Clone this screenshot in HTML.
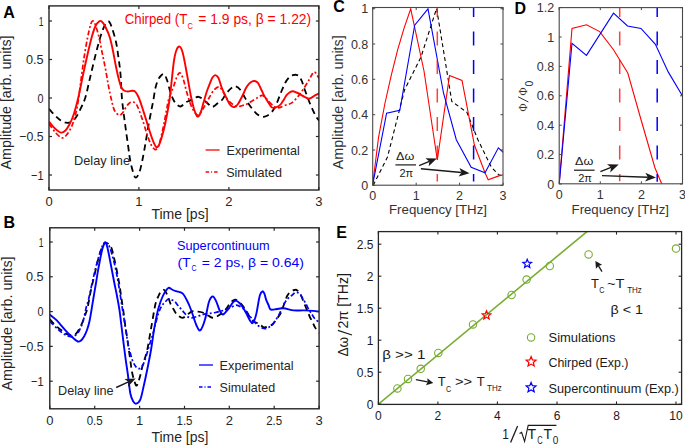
<!DOCTYPE html>
<html><head><meta charset="utf-8"><style>
html,body{margin:0;padding:0;background:#fff;width:685px;height:446px;overflow:hidden}
svg{display:block}
</style></head><body>
<svg width="685" height="446" viewBox="0 0 685 446">
<rect width="685" height="446" fill="#ffffff"/>
<defs><clipPath id="cA"><rect x="49.0" y="5.9" width="269.9" height="184.1"/></clipPath>
<clipPath id="cB"><rect x="49.8" y="227.8" width="269.3" height="181"/></clipPath>
<clipPath id="cC"><rect x="372.6" y="7.9" width="130.6" height="177.3"/></clipPath>
<clipPath id="cD"><rect x="559.2" y="7.6" width="123.3" height="176.2"/></clipPath>
<clipPath id="cE"><rect x="378.4" y="231.6" width="303.2" height="172.8"/></clipPath></defs>
<g clip-path="url(#cA)" fill="none" stroke-linejoin="round">
<path d="M49.0,108.8 C50.0,109.9 53.0,113.5 55.0,115.5 C57.0,117.5 59.0,119.3 60.8,120.5 C62.6,121.7 64.3,122.5 66.0,122.7 C67.7,123.0 69.4,122.8 71.0,122.0 C72.6,121.2 74.0,120.0 75.5,118.0 C77.0,116.0 78.4,113.3 80.0,110.0 C81.6,106.7 83.5,103.3 85.2,98.0 C86.9,92.7 88.2,85.5 90.0,78.0 C91.8,70.5 94.2,60.2 96.0,53.0 C97.8,45.8 99.5,39.7 101.0,35.0 C102.5,30.3 103.7,27.3 105.0,25.0 C106.3,22.7 107.5,20.9 108.7,21.4 C109.9,21.9 110.8,24.6 112.0,28.0 C113.2,31.4 114.9,37.0 116.0,42.0 C117.1,47.0 117.8,52.8 118.5,58.0 C119.2,63.2 119.8,66.0 120.4,73.0 C121.0,80.0 121.3,91.5 122.1,100.0 C122.9,108.5 124.1,116.5 125.1,124.2 C126.1,131.9 127.3,140.3 128.2,146.4 C129.0,152.5 129.4,156.1 130.2,160.5 C131.0,164.9 132.3,169.7 133.2,172.6 C134.1,175.5 134.8,177.7 135.8,177.7 C136.8,177.7 138.2,175.5 139.3,172.6 C140.4,169.7 141.3,165.2 142.3,160.5 C143.3,155.8 144.3,150.1 145.3,144.4 C146.3,138.7 147.3,131.9 148.3,126.2 C149.3,120.5 150.6,114.5 151.4,110.1 C152.2,105.7 152.7,103.7 153.4,100.0 C154.1,96.3 154.6,91.3 155.4,88.0 C156.2,84.7 157.1,82.0 158.0,80.0 C158.9,78.0 159.7,77.0 160.7,76.0 C161.7,75.0 162.9,73.3 164.0,74.0 C165.1,74.7 165.9,77.0 167.0,80.0 C168.1,83.0 169.2,88.7 170.3,92.0 C171.4,95.3 172.4,97.9 173.5,100.0 C174.6,102.1 175.5,103.4 176.7,104.5 C177.9,105.6 179.3,106.6 180.5,106.5 C181.7,106.4 183.0,104.8 184.0,104.0 C185.0,103.2 185.2,102.6 186.3,102.0 C187.4,101.4 189.0,101.1 190.4,100.4 C191.8,99.7 193.1,98.6 194.5,98.0 C195.9,97.4 197.2,96.6 198.6,96.8 C200.0,97.0 201.5,98.1 202.7,98.9 C203.8,99.7 204.5,100.6 205.5,101.5 C206.5,102.4 207.8,103.6 208.8,104.5 C209.9,105.4 210.8,106.8 211.8,107.0 C212.8,107.2 214.0,106.2 215.0,105.5 C216.0,104.8 216.8,103.9 218.0,103.0 C219.2,102.1 220.7,101.5 222.0,100.0 C223.3,98.5 224.6,95.6 226.0,93.8 C227.4,92.0 229.0,90.3 230.2,89.2 C231.4,88.1 232.1,87.5 233.0,87.0 C233.9,86.5 234.6,85.9 235.8,86.3 C237.0,86.7 238.5,87.6 240.0,89.5 C241.5,91.4 243.4,95.1 244.9,97.6 C246.4,100.1 247.6,102.4 249.0,104.5 C250.4,106.6 252.0,108.6 253.4,110.3 C254.8,112.0 256.1,113.4 257.5,114.5 C258.9,115.6 260.5,116.5 262.0,116.7 C263.5,117.0 264.9,116.7 266.5,116.0 C268.1,115.3 270.0,114.1 271.5,112.4 C273.0,110.7 274.2,108.5 275.5,106.0 C276.8,103.5 277.9,100.3 279.0,97.6 C280.1,94.9 280.9,92.5 282.0,90.0 C283.1,87.5 284.1,84.8 285.3,82.7 C286.5,80.6 287.8,78.8 289.0,77.5 C290.2,76.2 291.6,75.7 292.8,75.2 C294.0,74.8 294.9,74.6 296.0,74.8 C297.1,75.0 298.2,75.2 299.2,76.3 C300.2,77.4 301.1,79.4 302.0,81.5 C302.9,83.6 303.5,86.2 304.5,89.0 C305.5,91.8 306.8,95.3 308.0,98.5 C309.2,101.7 310.6,105.2 312.0,108.2 C313.4,111.2 314.9,114.6 316.2,116.7 C317.4,118.8 318.9,120.3 319.5,121.0" stroke="#000" stroke-width="1.8" stroke-dasharray="6.3,4.2"/>
<path d="M49.0,123.7 C50.0,125.1 52.9,129.7 55.0,132.0 C57.1,134.3 59.9,137.3 61.8,137.8 C63.7,138.3 64.9,136.8 66.5,135.0 C68.1,133.2 70.0,130.0 71.4,127.0 C72.8,124.0 73.7,120.9 74.8,117.0 C75.9,113.1 76.8,109.7 77.8,103.5 C78.8,97.3 80.0,87.6 81.0,80.0 C82.0,72.4 82.9,65.0 84.0,58.0 C85.1,51.0 86.4,43.5 87.5,38.0 C88.6,32.5 89.7,27.8 90.5,25.0 C91.3,22.2 91.8,21.2 92.5,21.0 C93.2,20.8 93.9,21.3 95.0,24.0 C96.1,26.7 97.8,32.3 99.0,37.0 C100.2,41.7 100.9,46.7 102.0,52.0 C103.1,57.3 104.4,63.3 105.5,69.0 C106.6,74.7 107.5,80.8 108.5,86.0 C109.5,91.2 110.5,95.9 111.5,100.0 C112.5,104.1 113.2,108.0 114.5,110.5 C115.8,113.0 117.8,114.7 119.1,115.1 C120.4,115.5 121.3,114.3 122.5,113.0 C123.7,111.7 124.9,108.8 126.1,107.1 C127.3,105.4 128.3,103.8 129.5,103.0 C130.7,102.2 132.1,101.8 133.2,102.0 C134.3,102.2 135.2,103.0 136.0,104.0 C136.8,105.0 137.0,105.0 138.2,108.0 C139.4,111.0 141.8,117.7 143.3,122.2 C144.8,126.8 146.0,131.4 147.3,135.3 C148.7,139.2 150.2,143.1 151.4,145.4 C152.7,147.8 153.9,148.9 154.8,149.4 C155.7,149.9 156.2,149.5 157.0,148.5 C157.8,147.5 158.3,147.1 159.4,143.4 C160.5,139.7 162.3,131.8 163.5,126.2 C164.7,120.7 165.7,114.5 166.5,110.1 C167.3,105.7 167.8,102.8 168.5,100.0 C169.2,97.2 170.1,95.3 171.0,93.0 C171.9,90.7 172.8,88.8 173.8,86.0 C174.8,83.2 175.9,78.7 177.0,76.5 C178.1,74.3 179.1,72.4 180.2,73.0 C181.3,73.6 182.4,76.9 183.5,80.0 C184.6,83.1 185.4,87.7 186.6,91.7 C187.8,95.7 189.2,100.6 190.5,104.0 C191.8,107.4 193.2,110.2 194.5,112.0 C195.8,113.8 196.8,115.7 198.3,115.0 C199.8,114.3 201.7,110.8 203.5,108.0 C205.3,105.2 207.2,101.0 209.0,98.0 C210.8,95.0 212.3,91.8 214.0,90.0 C215.7,88.2 217.7,86.6 219.3,87.0 C220.9,87.4 222.1,90.3 223.5,92.5 C224.9,94.7 226.4,98.2 228.0,100.2 C229.6,102.2 231.4,103.4 233.0,104.5 C234.6,105.6 236.1,106.4 237.7,106.6 C239.3,106.8 240.9,105.9 242.5,105.5 C244.1,105.1 245.4,104.8 247.0,104.0 C248.6,103.2 250.2,102.1 252.0,101.0 C253.8,99.9 256.0,98.5 257.7,97.6 C259.4,96.7 260.7,95.4 262.0,95.4 C263.3,95.4 264.4,96.6 265.5,97.5 C266.6,98.4 266.8,99.2 268.3,100.8 C269.8,102.4 273.1,105.9 274.7,107.1 C276.3,108.3 276.9,107.8 278.0,107.8 C279.1,107.8 279.7,107.6 281.0,107.1 C282.3,106.6 284.2,105.7 286.0,105.0 C287.8,104.3 289.7,104.3 291.7,102.9 C293.7,101.5 296.1,98.8 298.0,96.5 C299.9,94.2 301.6,91.7 303.4,89.0 C305.2,86.3 307.3,82.9 308.7,80.5 C310.1,78.1 311.1,75.9 312.0,74.5 C312.9,73.1 313.2,72.1 314.0,72.0 C314.8,71.9 315.7,72.9 316.5,74.0 C317.3,75.1 318.6,77.7 319.0,78.4" stroke="#ff0000" stroke-width="1.7" stroke-dasharray="5,2.3,2,2.3"/>
<path d="M49.0,121.6 C50.0,122.8 53.0,126.7 55.0,128.5 C57.0,130.3 59.0,132.3 60.8,132.6 C62.5,132.9 64.1,131.8 65.5,130.5 C66.9,129.2 68.1,127.0 69.3,124.8 C70.5,122.5 71.7,119.8 72.8,117.0 C73.9,114.2 74.7,111.5 75.7,107.8 C76.7,104.1 77.7,100.5 78.9,95.0 C80.1,89.5 81.6,81.7 83.0,75.0 C84.4,68.3 86.0,61.2 87.4,55.0 C88.8,48.8 90.2,42.8 91.5,38.0 C92.8,33.2 94.2,28.8 95.5,26.0 C96.8,23.2 98.0,22.2 99.0,21.4 C100.0,20.6 100.7,20.6 101.7,21.4 C102.7,22.2 103.7,23.4 105.0,26.0 C106.3,28.6 108.4,32.8 109.7,37.0 C111.0,41.2 112.0,46.0 113.0,51.0 C114.0,56.0 115.0,61.9 116.0,66.7 C117.0,71.5 118.1,76.5 119.0,80.0 C119.9,83.5 120.6,85.8 121.4,87.5 C122.2,89.2 122.9,89.8 124.0,90.5 C125.1,91.2 126.7,91.5 128.0,91.5 C129.3,91.5 130.8,90.7 132.0,90.7 C133.2,90.7 134.1,90.5 135.2,91.6 C136.3,92.6 137.2,94.1 138.5,97.0 C139.8,99.9 141.4,105.0 142.7,109.0 C144.0,113.0 145.3,117.1 146.5,121.0 C147.7,124.9 148.8,128.8 150.0,132.3 C151.2,135.8 152.4,139.5 153.5,142.0 C154.6,144.5 155.5,146.7 156.4,147.2 C157.3,147.7 158.2,146.5 159.0,145.0 C159.8,143.5 160.3,142.1 161.4,138.3 C162.5,134.5 164.2,128.6 165.5,122.2 C166.8,115.8 168.1,110.0 169.5,100.0 C170.9,90.0 172.6,70.3 173.8,62.0 C175.0,53.7 175.5,52.6 176.5,50.0 C177.5,47.4 178.6,46.3 179.6,46.6 C180.6,46.9 181.5,48.7 182.5,52.0 C183.5,55.3 184.6,61.5 185.5,66.2 C186.4,70.9 187.1,75.0 188.0,80.0 C188.9,85.0 189.9,91.2 190.9,96.0 C191.9,100.8 192.9,105.6 194.0,109.0 C195.1,112.4 196.2,115.8 197.3,116.5 C198.4,117.2 199.4,115.4 200.5,113.0 C201.6,110.6 202.5,106.0 203.6,102.3 C204.7,98.6 205.9,94.2 207.0,91.0 C208.1,87.8 209.1,85.5 210.0,83.2 C210.9,81.0 211.6,78.8 212.5,77.5 C213.4,76.2 214.3,75.0 215.3,75.1 C216.3,75.2 217.4,75.9 218.5,78.0 C219.6,80.1 220.5,84.5 221.7,87.5 C222.9,90.5 224.2,93.3 225.5,96.0 C226.8,98.7 228.1,101.7 229.2,103.4 C230.3,105.2 231.1,105.9 232.0,106.5 C232.9,107.1 233.5,107.4 234.5,107.0 C235.5,106.6 236.6,106.0 238.0,104.0 C239.4,102.0 241.5,97.7 242.8,95.0 C244.1,92.3 244.9,89.9 246.0,88.0 C247.1,86.1 248.2,84.8 249.2,83.7 C250.2,82.6 251.1,82.0 252.0,81.5 C252.9,81.0 253.6,80.8 254.5,81.0 C255.4,81.2 256.6,81.4 257.7,82.7 C258.8,84.0 259.9,86.9 261.0,89.0 C262.1,91.1 262.8,93.2 264.0,95.4 C265.2,97.6 266.8,100.0 268.0,102.0 C269.2,104.0 270.4,106.1 271.5,107.1 C272.6,108.1 273.6,107.9 274.7,107.8 C275.8,107.7 276.9,107.1 278.0,106.5 C279.1,105.9 280.0,105.2 281.0,104.0 C282.0,102.8 283.1,100.9 284.0,99.5 C284.9,98.1 285.5,96.6 286.4,95.4 C287.3,94.2 288.4,93.2 289.5,92.5 C290.6,91.8 291.6,91.2 292.8,91.2 C294.0,91.2 295.3,92.0 296.5,92.5 C297.7,93.0 298.9,93.7 300.2,94.4 C301.5,95.1 303.1,96.1 304.5,96.8 C305.9,97.5 307.4,98.5 308.7,98.6 C309.9,98.7 310.9,97.8 312.0,97.3 C313.1,96.8 313.8,96.1 315.0,95.4 C316.2,94.7 318.3,93.7 319.0,93.3" stroke="#ff0000" stroke-width="1.9"/>
</g>
<rect x="49.0" y="5.9" width="269.9" height="184.1" fill="none" stroke="#262626" stroke-width="1.40"/>
<line x1="49.0" y1="175.0" x2="52.0" y2="175.0" stroke="#262626" stroke-width="1.20"/>
<line x1="318.9" y1="175.0" x2="315.9" y2="175.0" stroke="#262626" stroke-width="1.20"/>
<line x1="49.0" y1="136.5" x2="52.0" y2="136.5" stroke="#262626" stroke-width="1.20"/>
<line x1="318.9" y1="136.5" x2="315.9" y2="136.5" stroke="#262626" stroke-width="1.20"/>
<line x1="49.0" y1="98.0" x2="52.0" y2="98.0" stroke="#262626" stroke-width="1.20"/>
<line x1="318.9" y1="98.0" x2="315.9" y2="98.0" stroke="#262626" stroke-width="1.20"/>
<line x1="49.0" y1="59.5" x2="52.0" y2="59.5" stroke="#262626" stroke-width="1.20"/>
<line x1="318.9" y1="59.5" x2="315.9" y2="59.5" stroke="#262626" stroke-width="1.20"/>
<line x1="49.0" y1="21.0" x2="52.0" y2="21.0" stroke="#262626" stroke-width="1.20"/>
<line x1="318.9" y1="21.0" x2="315.9" y2="21.0" stroke="#262626" stroke-width="1.20"/>
<line x1="49.0" y1="190.0" x2="49.0" y2="187.0" stroke="#262626" stroke-width="1.20"/>
<line x1="49.0" y1="5.9" x2="49.0" y2="8.9" stroke="#262626" stroke-width="1.20"/>
<line x1="138.9" y1="190.0" x2="138.9" y2="187.0" stroke="#262626" stroke-width="1.20"/>
<line x1="138.9" y1="5.9" x2="138.9" y2="8.9" stroke="#262626" stroke-width="1.20"/>
<line x1="228.9" y1="190.0" x2="228.9" y2="187.0" stroke="#262626" stroke-width="1.20"/>
<line x1="228.9" y1="5.9" x2="228.9" y2="8.9" stroke="#262626" stroke-width="1.20"/>
<line x1="318.8" y1="190.0" x2="318.8" y2="187.0" stroke="#262626" stroke-width="1.20"/>
<line x1="318.8" y1="5.9" x2="318.8" y2="8.9" stroke="#262626" stroke-width="1.20"/>
<text x="38.8" y="25.6" font-size="13.00" text-anchor="start" fill="#262626" font-weight="normal" font-family='"Liberation Sans", sans-serif' textLength="4.8" lengthAdjust="spacingAndGlyphs">1</text>
<text x="26.0" y="64.1" font-size="13.00" text-anchor="start" fill="#262626" font-weight="normal" font-family='"Liberation Sans", sans-serif' textLength="17.6" lengthAdjust="spacingAndGlyphs">0.5</text>
<text x="37.6" y="102.6" font-size="13.00" text-anchor="start" fill="#262626" font-weight="normal" font-family='"Liberation Sans", sans-serif' textLength="6.0" lengthAdjust="spacingAndGlyphs">0</text>
<text x="19.3" y="141.1" font-size="13.00" text-anchor="start" fill="#262626" font-weight="normal" font-family='"Liberation Sans", sans-serif' textLength="24.3" lengthAdjust="spacingAndGlyphs">−0.5</text>
<text x="31.1" y="179.6" font-size="13.00" text-anchor="start" fill="#262626" font-weight="normal" font-family='"Liberation Sans", sans-serif' textLength="12.5" lengthAdjust="spacingAndGlyphs">−1</text>
<text x="49.0" y="206.1" font-size="13.00" text-anchor="middle" fill="#262626" font-weight="normal" font-family='"Liberation Sans", sans-serif'>0</text>
<text x="138.9" y="206.1" font-size="13.00" text-anchor="middle" fill="#262626" font-weight="normal" font-family='"Liberation Sans", sans-serif'>1</text>
<text x="228.9" y="206.1" font-size="13.00" text-anchor="middle" fill="#262626" font-weight="normal" font-family='"Liberation Sans", sans-serif'>2</text>
<text x="318.8" y="206.1" font-size="13.00" text-anchor="middle" fill="#262626" font-weight="normal" font-family='"Liberation Sans", sans-serif'>3</text>
<text x="151.4" y="218.5" font-size="14.00" text-anchor="start" fill="#262626" font-weight="normal" font-family='"Liberation Sans", sans-serif' textLength="57.2" lengthAdjust="spacingAndGlyphs">Time [ps]</text>
<text transform="translate(11.1,102.5) rotate(-90)" font-size="14.3" text-anchor="middle" fill="#262626" font-family='"Liberation Sans", sans-serif' textLength="134" lengthAdjust="spacingAndGlyphs">Amplitude [arb. units]</text>
<text x="3.2" y="17.6" font-size="16.00" text-anchor="start" fill="#000" font-weight="bold" font-family='"Liberation Sans", sans-serif'>A</text>
<text x="124.8" y="24.1" font-size="13.80" text-anchor="start" fill="#ff0000" font-weight="normal" font-family='"Liberation Sans", sans-serif' textLength="62.4" lengthAdjust="spacingAndGlyphs">Chirped (T</text>
<text x="187.6" y="28.9" font-size="9.00" text-anchor="start" fill="#ff0000" font-weight="normal" font-family='"Liberation Sans", sans-serif' textLength="5.4" lengthAdjust="spacingAndGlyphs">C</text>
<text x="198.3" y="24.1" font-size="13.80" text-anchor="start" fill="#ff0000" font-weight="normal" font-family='"Liberation Sans", sans-serif' textLength="112.9" lengthAdjust="spacingAndGlyphs">= 1.9 ps, β = 1.22)</text>
<line x1="205.6" y1="150.0" x2="219.6" y2="150.0" stroke="#ff0000" stroke-width="1.30"/>
<line x1="205.6" y1="172.0" x2="219.6" y2="172.0" stroke="#ff0000" stroke-width="1.30" stroke-dasharray="3.5,2,1,2"/>
<text x="226.6" y="154.7" font-size="12.60" text-anchor="start" fill="#262626" font-weight="normal" font-family='"Liberation Sans", sans-serif' textLength="73.2" lengthAdjust="spacingAndGlyphs">Experimental</text>
<text x="226.2" y="176.8" font-size="12.60" text-anchor="start" fill="#262626" font-weight="normal" font-family='"Liberation Sans", sans-serif' textLength="55.8" lengthAdjust="spacingAndGlyphs">Simulated</text>
<text x="74.0" y="165.0" font-size="12.60" text-anchor="start" fill="#262626" font-weight="normal" font-family='"Liberation Sans", sans-serif' textLength="56.0" lengthAdjust="spacingAndGlyphs">Delay line</text>
<g clip-path="url(#cB)" fill="none" stroke-linejoin="round">
<path d="M49.8,319.1 C50.7,320.1 53.2,323.2 55.0,325.0 C56.8,326.8 59.1,328.5 60.8,329.8 C62.5,331.1 63.6,332.1 65.0,333.0 C66.4,333.9 68.0,334.7 69.3,335.0 C70.5,335.3 71.4,335.2 72.5,335.0 C73.6,334.8 74.6,334.9 75.7,334.0 C76.8,333.1 78.0,331.3 79.0,329.5 C80.0,327.7 81.0,325.6 82.0,323.4 C83.0,321.1 83.8,318.5 84.7,316.0 C85.6,313.5 86.4,312.5 87.4,308.5 C88.4,304.5 89.5,297.1 90.6,291.9 C91.7,286.6 92.8,282.0 94.0,277.0 C95.2,272.0 96.3,266.5 97.5,262.0 C98.7,257.5 99.9,253.0 101.0,250.0 C102.1,247.0 103.1,245.2 104.0,244.0 C104.9,242.8 105.6,242.8 106.5,243.0 C107.4,243.2 108.6,243.9 109.5,245.0 C110.4,246.1 111.1,246.8 111.9,249.3 C112.7,251.8 113.6,256.1 114.5,260.0 C115.4,263.9 116.4,268.5 117.2,272.7 C118.0,276.9 118.8,280.8 119.5,285.0 C120.2,289.2 120.7,293.5 121.4,298.0 C122.1,302.5 122.8,307.0 123.5,312.0 C124.2,317.0 124.9,323.3 125.6,328.0 C126.3,332.7 126.8,335.0 127.5,340.0 C128.2,345.0 129.2,352.7 130.0,358.0 C130.8,363.3 131.2,368.1 132.0,372.0 C132.8,375.9 133.7,379.2 134.5,381.5 C135.3,383.8 135.9,386.3 136.8,385.5 C137.7,384.7 139.0,380.1 140.0,376.5 C141.0,372.9 141.8,368.2 143.0,364.0 C144.2,359.8 145.6,357.1 147.0,351.0 C148.4,344.9 149.8,335.5 151.2,327.7 C152.6,319.9 154.2,309.6 155.4,304.3 C156.6,299.0 157.6,298.1 158.5,296.0 C159.4,293.9 160.0,292.5 161.0,291.5 C162.0,290.5 163.2,289.4 164.3,290.1 C165.4,290.8 166.4,293.2 167.5,295.5 C168.6,297.8 169.5,301.6 170.6,304.0 C171.7,306.4 172.9,308.2 174.0,310.0 C175.1,311.8 175.6,313.3 177.0,314.6 C178.4,315.9 180.7,317.7 182.4,317.8 C184.1,317.9 185.4,316.1 187.0,315.0 C188.6,313.9 190.3,312.0 192.0,311.4 C193.7,310.8 195.2,311.3 197.0,311.5 C198.8,311.7 200.8,311.8 202.6,312.5 C204.4,313.2 206.2,314.6 208.0,315.5 C209.8,316.4 211.4,317.8 213.2,317.8 C214.9,317.8 216.7,316.6 218.5,315.5 C220.3,314.4 222.3,312.8 223.8,311.4 C225.3,310.0 226.4,308.4 227.5,307.0 C228.6,305.6 229.3,304.0 230.2,302.9 C231.1,301.8 232.1,301.0 233.0,300.5 C233.9,300.0 234.4,299.4 235.5,299.7 C236.6,300.0 238.2,301.4 239.5,302.5 C240.8,303.6 241.9,304.8 243.0,306.1 C244.1,307.4 244.9,308.7 246.0,310.5 C247.1,312.3 248.5,315.1 249.4,316.7 C250.3,318.3 250.5,319.1 251.3,320.0 C252.2,320.9 253.4,321.5 254.5,322.0 C255.6,322.5 256.6,322.6 257.7,323.2 C258.8,323.8 259.9,324.8 261.0,325.5 C262.1,326.2 262.8,327.2 264.0,327.4 C265.2,327.6 266.6,327.0 268.0,326.5 C269.4,326.0 271.1,325.6 272.6,324.3 C274.1,323.0 275.6,320.4 277.0,318.5 C278.4,316.6 279.8,315.2 281.0,312.6 C282.2,310.0 283.4,305.9 284.5,303.0 C285.6,300.1 286.3,297.4 287.4,295.5 C288.5,293.6 289.8,292.4 291.0,291.5 C292.2,290.6 293.5,290.2 294.5,290.0 C295.5,289.8 296.0,289.4 297.0,290.2 C298.0,290.9 299.2,292.2 300.5,294.5 C301.8,296.8 303.4,301.4 304.5,304.0 C305.6,306.6 306.1,307.9 307.0,310.0 C307.9,312.1 308.9,314.8 309.8,316.8 C310.7,318.8 311.6,320.2 312.5,322.0 C313.4,323.8 313.9,325.6 315.0,327.4 C316.1,329.2 318.3,332.1 319.0,333.0" stroke="#000" stroke-width="1.8" stroke-dasharray="6.3,4.2"/>
<path d="M49.8,321.3 C51.3,322.7 56.2,327.7 58.6,329.8 C61.0,331.9 62.2,332.9 64.0,334.0 C65.8,335.1 67.6,336.2 69.3,336.5 C71.0,336.8 72.6,336.6 74.0,336.0 C75.4,335.4 76.7,334.3 77.8,333.0 C78.9,331.7 79.6,329.9 80.5,328.0 C81.4,326.1 82.1,324.8 83.1,321.3 C84.1,317.8 85.4,310.6 86.3,307.0 C87.2,303.4 87.5,303.6 88.4,300.0 C89.3,296.4 90.6,290.0 91.6,285.5 C92.6,281.0 93.6,276.8 94.5,273.0 C95.4,269.2 96.2,265.8 97.0,263.0 C97.8,260.2 98.3,258.3 99.0,256.0 C99.7,253.7 100.5,251.2 101.2,249.3 C101.9,247.4 102.4,245.6 103.0,244.5 C103.6,243.4 104.2,242.6 105.0,242.5 C105.8,242.4 106.7,243.2 107.5,244.0 C108.3,244.8 108.8,244.9 109.7,247.2 C110.6,249.5 112.0,254.1 113.0,258.0 C114.0,261.9 115.0,265.9 116.0,270.6 C117.0,275.3 117.9,280.7 118.8,286.0 C119.7,291.3 120.5,296.5 121.4,302.5 C122.4,308.5 123.4,315.3 124.5,322.0 C125.6,328.7 126.9,337.6 127.8,342.6 C128.7,347.6 129.2,349.0 130.0,352.0 C130.8,355.0 131.6,358.1 132.5,360.5 C133.4,362.9 134.4,364.8 135.5,366.2 C136.6,367.6 137.7,368.6 138.8,368.6 C139.9,368.7 141.0,367.9 142.0,366.5 C143.0,365.1 143.7,363.6 144.8,360.5 C145.9,357.4 147.3,352.1 148.5,348.0 C149.7,343.9 151.0,340.2 152.2,336.2 C153.4,332.2 154.4,327.9 155.5,324.0 C156.6,320.1 157.5,315.9 158.6,312.8 C159.7,309.7 160.9,307.3 162.0,305.5 C163.1,303.7 163.9,303.2 165.0,302.1 C166.1,301.0 167.3,299.4 168.5,299.0 C169.7,298.6 170.9,299.5 172.0,300.0 C173.1,300.5 174.0,300.9 175.0,301.8 C176.0,302.7 176.9,304.2 178.0,305.5 C179.1,306.8 180.2,308.1 181.3,309.3 C182.4,310.6 183.4,311.8 184.5,313.0 C185.6,314.2 186.4,315.9 187.7,316.7 C188.9,317.5 190.4,317.8 192.0,317.8 C193.6,317.8 195.2,317.0 197.0,316.5 C198.8,316.0 200.6,315.1 202.6,314.6 C204.6,314.1 206.9,313.9 209.0,313.5 C211.1,313.1 212.8,313.0 215.3,312.5 C217.8,312.0 221.4,311.1 223.8,310.3 C226.2,309.6 227.9,308.9 230.0,308.0 C232.1,307.1 234.3,305.1 236.4,305.1 C238.5,305.2 241.0,307.1 242.8,308.3 C244.6,309.5 245.6,310.9 247.0,312.5 C248.4,314.1 249.5,315.8 251.3,317.9 C253.1,320.0 255.6,323.5 257.7,325.3 C259.8,327.1 262.2,328.1 264.0,328.5 C265.8,328.9 267.1,328.2 268.5,327.5 C269.9,326.8 271.4,325.6 272.6,324.3 C273.9,323.0 274.9,321.1 276.0,319.5 C277.1,317.9 278.0,316.6 279.0,314.7 C280.0,312.8 280.9,310.1 282.0,308.0 C283.1,305.9 284.2,303.6 285.3,301.9 C286.4,300.2 287.4,299.1 288.5,298.0 C289.6,296.9 290.7,296.3 291.7,295.5 C292.7,294.7 293.6,293.5 294.5,293.0 C295.4,292.5 296.1,292.1 297.0,292.3 C297.9,292.5 299.1,293.1 300.0,294.0 C300.9,294.9 301.4,296.2 302.3,297.7 C303.2,299.2 304.4,301.1 305.5,303.0 C306.6,304.9 307.6,307.5 308.7,309.4 C309.8,311.3 310.9,312.9 312.0,314.5 C313.1,316.1 313.8,317.7 315.0,319.0 C316.2,320.3 318.3,321.6 319.0,322.1" stroke="#0000ff" stroke-width="1.7" stroke-dasharray="5,2.3,2,2.3"/>
<path d="M49.8,314.6 C50.9,315.5 54.0,317.7 56.5,320.2 C59.0,322.7 62.4,327.0 65.0,329.8 C67.6,332.6 69.9,335.1 72.0,337.0 C74.1,338.9 76.3,340.9 77.8,341.5 C79.3,342.1 79.9,341.4 81.0,340.5 C82.1,339.6 83.2,337.9 84.2,336.2 C85.2,334.4 86.1,332.5 87.0,330.0 C87.9,327.5 88.8,324.6 89.5,321.3 C90.2,318.0 90.8,314.2 91.5,310.0 C92.2,305.8 93.0,300.5 93.8,296.0 C94.5,291.5 95.3,287.2 96.0,283.0 C96.7,278.8 97.3,274.6 98.0,270.6 C98.7,266.6 99.5,262.6 100.2,259.0 C100.9,255.4 101.5,252.1 102.3,249.3 C103.1,246.5 104.2,242.8 105.0,242.2 C105.8,241.6 106.4,244.1 107.0,246.0 C107.6,247.9 108.0,250.0 108.7,253.5 C109.4,257.0 110.4,262.4 111.3,267.0 C112.2,271.6 113.1,276.5 114.0,281.2 C114.9,285.9 115.9,290.4 116.8,295.0 C117.7,299.6 118.5,303.8 119.3,308.9 C120.1,314.0 120.7,319.9 121.4,325.5 C122.1,331.1 122.8,336.9 123.5,342.6 C124.2,348.3 125.0,354.4 125.7,359.6 C126.4,364.8 127.0,368.3 127.8,374.0 C128.6,379.7 129.5,389.2 130.4,393.8 C131.3,398.4 132.3,399.8 133.3,401.4 C134.3,403.0 135.0,404.0 136.2,403.7 C137.4,403.4 139.0,402.6 140.3,399.6 C141.6,396.6 142.6,390.7 143.8,385.6 C145.0,380.6 146.1,375.2 147.3,369.3 C148.5,363.4 149.8,356.9 151.0,350.0 C152.2,343.1 153.3,334.0 154.4,327.7 C155.5,321.4 156.6,315.9 157.5,312.0 C158.4,308.1 158.9,306.6 159.7,304.3 C160.4,302.0 161.1,300.1 162.0,298.0 C162.9,295.9 163.9,293.7 165.0,292.0 C166.1,290.3 167.3,288.2 168.5,287.8 C169.7,287.4 170.8,288.9 172.0,289.5 C173.2,290.1 174.3,290.6 176.0,291.2 C177.7,291.8 180.6,291.9 182.4,293.3 C184.2,294.7 185.4,297.6 186.6,299.7 C187.8,301.8 188.6,303.9 189.5,306.0 C190.4,308.1 190.8,309.2 192.0,312.5 C193.2,315.8 195.1,322.6 196.5,325.5 C197.9,328.4 199.0,331.2 200.4,330.2 C201.8,329.2 203.6,324.2 205.0,319.5 C206.4,314.8 207.7,305.6 209.0,301.8 C210.3,298.0 211.6,296.5 212.8,296.5 C214.0,296.5 215.3,299.5 216.4,301.8 C217.5,304.1 218.5,308.2 219.6,310.3 C220.7,312.4 221.4,314.8 222.8,314.6 C224.2,314.4 226.2,311.4 228.0,309.3 C229.8,307.2 232.0,303.2 233.4,301.8 C234.8,300.4 235.4,300.6 236.5,300.9 C237.6,301.2 238.9,302.4 240.0,303.5 C241.1,304.6 241.6,305.3 242.8,307.2 C244.0,309.1 245.8,312.5 247.0,314.7 C248.2,316.9 249.1,319.1 250.0,320.5 C250.9,321.9 251.7,323.3 252.4,323.2 C253.2,323.1 253.8,321.8 254.5,320.0 C255.2,318.2 255.7,316.7 256.6,312.6 C257.5,308.5 258.8,299.1 259.8,295.5 C260.8,291.9 261.8,291.6 262.6,291.3 C263.4,291.1 263.9,292.6 264.5,294.0 C265.1,295.4 265.5,298.0 266.2,299.8 C266.9,301.6 267.8,303.4 268.5,305.0 C269.2,306.6 269.4,308.7 270.4,309.4 C271.4,310.1 272.6,309.6 274.7,309.4 C276.8,309.2 280.0,308.1 283.2,308.3 C286.4,308.5 290.2,310.0 293.8,310.4 C297.4,310.8 300.3,310.2 304.5,310.4 C308.7,310.6 316.6,311.3 319.0,311.5" stroke="#0000ff" stroke-width="1.9"/>
</g>
<rect x="49.8" y="227.8" width="269.3" height="181.0" fill="none" stroke="#262626" stroke-width="1.40"/>
<line x1="49.8" y1="381.2" x2="52.8" y2="381.2" stroke="#262626" stroke-width="1.20"/>
<line x1="319.1" y1="381.2" x2="316.1" y2="381.2" stroke="#262626" stroke-width="1.20"/>
<line x1="49.8" y1="346.4" x2="52.8" y2="346.4" stroke="#262626" stroke-width="1.20"/>
<line x1="319.1" y1="346.4" x2="316.1" y2="346.4" stroke="#262626" stroke-width="1.20"/>
<line x1="49.8" y1="311.6" x2="52.8" y2="311.6" stroke="#262626" stroke-width="1.20"/>
<line x1="319.1" y1="311.6" x2="316.1" y2="311.6" stroke="#262626" stroke-width="1.20"/>
<line x1="49.8" y1="276.8" x2="52.8" y2="276.8" stroke="#262626" stroke-width="1.20"/>
<line x1="319.1" y1="276.8" x2="316.1" y2="276.8" stroke="#262626" stroke-width="1.20"/>
<line x1="49.8" y1="242.0" x2="52.8" y2="242.0" stroke="#262626" stroke-width="1.20"/>
<line x1="319.1" y1="242.0" x2="316.1" y2="242.0" stroke="#262626" stroke-width="1.20"/>
<line x1="49.8" y1="408.8" x2="49.8" y2="405.8" stroke="#262626" stroke-width="1.20"/>
<line x1="49.8" y1="227.8" x2="49.8" y2="230.8" stroke="#262626" stroke-width="1.20"/>
<line x1="94.7" y1="408.8" x2="94.7" y2="405.8" stroke="#262626" stroke-width="1.20"/>
<line x1="94.7" y1="227.8" x2="94.7" y2="230.8" stroke="#262626" stroke-width="1.20"/>
<line x1="139.6" y1="408.8" x2="139.6" y2="405.8" stroke="#262626" stroke-width="1.20"/>
<line x1="139.6" y1="227.8" x2="139.6" y2="230.8" stroke="#262626" stroke-width="1.20"/>
<line x1="184.5" y1="408.8" x2="184.5" y2="405.8" stroke="#262626" stroke-width="1.20"/>
<line x1="184.5" y1="227.8" x2="184.5" y2="230.8" stroke="#262626" stroke-width="1.20"/>
<line x1="229.3" y1="408.8" x2="229.3" y2="405.8" stroke="#262626" stroke-width="1.20"/>
<line x1="229.3" y1="227.8" x2="229.3" y2="230.8" stroke="#262626" stroke-width="1.20"/>
<line x1="274.2" y1="408.8" x2="274.2" y2="405.8" stroke="#262626" stroke-width="1.20"/>
<line x1="274.2" y1="227.8" x2="274.2" y2="230.8" stroke="#262626" stroke-width="1.20"/>
<line x1="319.1" y1="408.8" x2="319.1" y2="405.8" stroke="#262626" stroke-width="1.20"/>
<line x1="319.1" y1="227.8" x2="319.1" y2="230.8" stroke="#262626" stroke-width="1.20"/>
<text x="38.8" y="246.6" font-size="13.00" text-anchor="start" fill="#262626" font-weight="normal" font-family='"Liberation Sans", sans-serif' textLength="4.8" lengthAdjust="spacingAndGlyphs">1</text>
<text x="26.0" y="281.4" font-size="13.00" text-anchor="start" fill="#262626" font-weight="normal" font-family='"Liberation Sans", sans-serif' textLength="17.6" lengthAdjust="spacingAndGlyphs">0.5</text>
<text x="37.6" y="316.2" font-size="13.00" text-anchor="start" fill="#262626" font-weight="normal" font-family='"Liberation Sans", sans-serif' textLength="6.0" lengthAdjust="spacingAndGlyphs">0</text>
<text x="19.3" y="351.0" font-size="13.00" text-anchor="start" fill="#262626" font-weight="normal" font-family='"Liberation Sans", sans-serif' textLength="24.3" lengthAdjust="spacingAndGlyphs">−0.5</text>
<text x="31.1" y="385.8" font-size="13.00" text-anchor="start" fill="#262626" font-weight="normal" font-family='"Liberation Sans", sans-serif' textLength="12.5" lengthAdjust="spacingAndGlyphs">−1</text>
<text x="49.8" y="424.8" font-size="13.00" text-anchor="middle" fill="#262626" font-weight="normal" font-family='"Liberation Sans", sans-serif'>0</text>
<text x="94.7" y="424.8" font-size="13.00" text-anchor="middle" fill="#262626" font-weight="normal" font-family='"Liberation Sans", sans-serif' textLength="16.0" lengthAdjust="spacingAndGlyphs">0.5</text>
<text x="139.6" y="424.8" font-size="13.00" text-anchor="middle" fill="#262626" font-weight="normal" font-family='"Liberation Sans", sans-serif'>1</text>
<text x="184.5" y="424.8" font-size="13.00" text-anchor="middle" fill="#262626" font-weight="normal" font-family='"Liberation Sans", sans-serif' textLength="16.0" lengthAdjust="spacingAndGlyphs">1.5</text>
<text x="229.3" y="424.8" font-size="13.00" text-anchor="middle" fill="#262626" font-weight="normal" font-family='"Liberation Sans", sans-serif'>2</text>
<text x="274.2" y="424.8" font-size="13.00" text-anchor="middle" fill="#262626" font-weight="normal" font-family='"Liberation Sans", sans-serif' textLength="16.0" lengthAdjust="spacingAndGlyphs">2.5</text>
<text x="319.1" y="424.8" font-size="13.00" text-anchor="middle" fill="#262626" font-weight="normal" font-family='"Liberation Sans", sans-serif'>3</text>
<text x="151.4" y="441.5" font-size="14.00" text-anchor="start" fill="#262626" font-weight="normal" font-family='"Liberation Sans", sans-serif' textLength="57.0" lengthAdjust="spacingAndGlyphs">Time [ps]</text>
<text transform="translate(11.5,323.5) rotate(-90)" font-size="14.3" text-anchor="middle" fill="#262626" font-family='"Liberation Sans", sans-serif' textLength="134" lengthAdjust="spacingAndGlyphs">Amplitude [arb. units]</text>
<text x="3.6" y="228.3" font-size="16.00" text-anchor="start" fill="#000" font-weight="bold" font-family='"Liberation Sans", sans-serif'>B</text>
<text x="177.0" y="249.9" font-size="13.30" text-anchor="start" fill="#0000ff" font-weight="normal" font-family='"Liberation Sans", sans-serif' textLength="92.6" lengthAdjust="spacingAndGlyphs">Supercontinuum</text>
<text x="177.4" y="266.5" font-size="13.60" text-anchor="start" fill="#0000ff" font-weight="normal" font-family='"Liberation Sans", sans-serif' textLength="13.4" lengthAdjust="spacingAndGlyphs">(T</text>
<text x="191.5" y="271.1" font-size="9.00" text-anchor="start" fill="#0000ff" font-weight="normal" font-family='"Liberation Sans", sans-serif' textLength="5.0" lengthAdjust="spacingAndGlyphs">C</text>
<text x="201.7" y="266.5" font-size="13.60" text-anchor="start" fill="#0000ff" font-weight="normal" font-family='"Liberation Sans", sans-serif' textLength="102.3" lengthAdjust="spacingAndGlyphs">= 2 ps, β = 0.64)</text>
<line x1="199.0" y1="365.0" x2="213.0" y2="365.0" stroke="#0000ff" stroke-width="1.30"/>
<line x1="199.0" y1="387.0" x2="213.0" y2="387.0" stroke="#0000ff" stroke-width="1.30" stroke-dasharray="3.5,2,1,2"/>
<text x="219.6" y="370.0" font-size="12.60" text-anchor="start" fill="#262626" font-weight="normal" font-family='"Liberation Sans", sans-serif' textLength="74.0" lengthAdjust="spacingAndGlyphs">Experimental</text>
<text x="219.6" y="392.0" font-size="12.60" text-anchor="start" fill="#262626" font-weight="normal" font-family='"Liberation Sans", sans-serif' textLength="55.6" lengthAdjust="spacingAndGlyphs">Simulated</text>
<text x="58.0" y="394.6" font-size="12.60" text-anchor="start" fill="#262626" font-weight="normal" font-family='"Liberation Sans", sans-serif' textLength="55.6" lengthAdjust="spacingAndGlyphs">Delay line</text>
<line x1="116.2" y1="387.5" x2="128.5" y2="381.8" stroke="#1a1a1a" stroke-width="1.40"/>
<path d="M135.70,378.40 L127.96,386.65 L128.45,381.78 L124.41,379.03 Z" fill="#1a1a1a"/>
<g clip-path="url(#cC)" fill="none" stroke-linejoin="miter">
<path d="M373.2,185.2 L387.5,157.0 L404.5,90.0 L421.0,57.0 L436.6,8.4 L451.8,101.5 L466.9,112.3 L477.7,139.2 L491.4,167.3 L498.8,174.8 L503.2,175.9" stroke="#000" stroke-width="1.1" stroke-dasharray="4,3"/>
<path d="M372.6,185.2 L378.5,137.6 L384.9,103.5 L391.3,75.2 L397.7,49.7 L404.0,28.4 L410.7,8.8 L424.0,71.0 L437.3,160.0 L449.5,75.6 L462.0,80.5 L474.4,145.0 L485.0,172.7 L488.2,179.7 L498.8,175.9 L503.2,174.8" stroke="#ff0000" stroke-width="1.1"/>
<path d="M372.6,185.2 L386.6,113.1 L399.8,110.3 L414.7,25.2 L428.0,8.8 L443.5,93.0 L456.3,139.7 L471.2,167.3 L485.0,172.7 L498.4,147.8 L503.2,152.4" stroke="#0000ff" stroke-width="1.1"/>
</g>
<line x1="437.3" y1="7.9" x2="437.3" y2="181.5" stroke="#ff0000" stroke-width="1.50" stroke-dasharray="14,14.5" stroke-dashoffset="4.9" opacity="0.75"/>
<line x1="473.6" y1="7.9" x2="473.6" y2="181.5" stroke="#0000ff" stroke-width="1.50" stroke-dasharray="14,14.5" stroke-dashoffset="4.9"/>
<rect x="372.7" y="7.5" width="130.3" height="177.7" fill="none" stroke="#484848" stroke-width="1.10"/>
<line x1="372.7" y1="185.3" x2="375.2" y2="185.3" stroke="#484848" stroke-width="1.00"/>
<line x1="503.0" y1="185.3" x2="500.5" y2="185.3" stroke="#484848" stroke-width="1.00"/>
<line x1="372.7" y1="150.0" x2="375.2" y2="150.0" stroke="#484848" stroke-width="1.00"/>
<line x1="503.0" y1="150.0" x2="500.5" y2="150.0" stroke="#484848" stroke-width="1.00"/>
<line x1="372.7" y1="114.7" x2="375.2" y2="114.7" stroke="#484848" stroke-width="1.00"/>
<line x1="503.0" y1="114.7" x2="500.5" y2="114.7" stroke="#484848" stroke-width="1.00"/>
<line x1="372.7" y1="79.3" x2="375.2" y2="79.3" stroke="#484848" stroke-width="1.00"/>
<line x1="503.0" y1="79.3" x2="500.5" y2="79.3" stroke="#484848" stroke-width="1.00"/>
<line x1="372.7" y1="44.0" x2="375.2" y2="44.0" stroke="#484848" stroke-width="1.00"/>
<line x1="503.0" y1="44.0" x2="500.5" y2="44.0" stroke="#484848" stroke-width="1.00"/>
<line x1="372.7" y1="8.7" x2="375.2" y2="8.7" stroke="#484848" stroke-width="1.00"/>
<line x1="503.0" y1="8.7" x2="500.5" y2="8.7" stroke="#484848" stroke-width="1.00"/>
<line x1="372.7" y1="185.2" x2="372.7" y2="182.7" stroke="#484848" stroke-width="1.00"/>
<line x1="372.7" y1="7.5" x2="372.7" y2="10.0" stroke="#484848" stroke-width="1.00"/>
<line x1="416.2" y1="185.2" x2="416.2" y2="182.7" stroke="#484848" stroke-width="1.00"/>
<line x1="416.2" y1="7.5" x2="416.2" y2="10.0" stroke="#484848" stroke-width="1.00"/>
<line x1="459.6" y1="185.2" x2="459.6" y2="182.7" stroke="#484848" stroke-width="1.00"/>
<line x1="459.6" y1="7.5" x2="459.6" y2="10.0" stroke="#484848" stroke-width="1.00"/>
<line x1="503.1" y1="185.2" x2="503.1" y2="182.7" stroke="#484848" stroke-width="1.00"/>
<line x1="503.1" y1="7.5" x2="503.1" y2="10.0" stroke="#484848" stroke-width="1.00"/>
<text x="368.3" y="189.9" font-size="12.50" text-anchor="end" fill="#333" font-weight="normal" font-family='"Liberation Sans", sans-serif'>0</text>
<text x="368.3" y="154.6" font-size="12.50" text-anchor="end" fill="#333" font-weight="normal" font-family='"Liberation Sans", sans-serif'>0.2</text>
<text x="368.3" y="119.3" font-size="12.50" text-anchor="end" fill="#333" font-weight="normal" font-family='"Liberation Sans", sans-serif'>0.4</text>
<text x="368.3" y="83.9" font-size="12.50" text-anchor="end" fill="#333" font-weight="normal" font-family='"Liberation Sans", sans-serif'>0.6</text>
<text x="368.3" y="48.6" font-size="12.50" text-anchor="end" fill="#333" font-weight="normal" font-family='"Liberation Sans", sans-serif'>0.8</text>
<text x="368.3" y="13.3" font-size="12.50" text-anchor="end" fill="#333" font-weight="normal" font-family='"Liberation Sans", sans-serif'>1</text>
<text x="372.7" y="199.8" font-size="12.50" text-anchor="middle" fill="#333" font-weight="normal" font-family='"Liberation Sans", sans-serif'>0</text>
<text x="416.2" y="199.8" font-size="12.50" text-anchor="middle" fill="#333" font-weight="normal" font-family='"Liberation Sans", sans-serif'>1</text>
<text x="459.6" y="199.8" font-size="12.50" text-anchor="middle" fill="#333" font-weight="normal" font-family='"Liberation Sans", sans-serif'>2</text>
<text x="503.1" y="199.8" font-size="12.50" text-anchor="middle" fill="#333" font-weight="normal" font-family='"Liberation Sans", sans-serif'>3</text>
<text x="389.0" y="214.0" font-size="12.50" text-anchor="start" fill="#333" font-weight="normal" font-family='"Liberation Sans", sans-serif' textLength="98.0" lengthAdjust="spacingAndGlyphs">Frequency [THz]</text>
<text transform="translate(343.1,102.3) rotate(-90)" font-size="15" text-anchor="middle" fill="#333" font-family='"Liberation Sans", sans-serif' textLength="133.8" lengthAdjust="spacingAndGlyphs">Amplitude [arb. units]</text>
<text x="333.3" y="12.4" font-size="16.00" text-anchor="start" fill="#000" font-weight="bold" font-family='"Liberation Sans", sans-serif'>C</text>
<text x="396.1" y="159.5" font-size="11.50" text-anchor="start" fill="#1a1a1a" font-weight="normal" font-family='"Liberation Sans", sans-serif' textLength="18.3" lengthAdjust="spacingAndGlyphs">Δω</text>
<line x1="395.4" y1="164.9" x2="416.0" y2="164.9" stroke="#1a1a1a" stroke-width="1.20"/>
<text x="406.3" y="176.8" font-size="11.00" text-anchor="middle" fill="#1a1a1a" font-weight="normal" font-family='"Liberation Sans", sans-serif'>2π</text>
<line x1="419.1" y1="165.6" x2="429.4" y2="161.4" stroke="#1a1a1a" stroke-width="1.40"/>
<path d="M436.80,158.40 L428.69,166.34 L429.39,161.41 L425.45,158.37 Z" fill="#1a1a1a"/>
<line x1="420.9" y1="168.7" x2="461.5" y2="172.5" stroke="#1a1a1a" stroke-width="1.40"/>
<path d="M469.50,173.30 L458.64,176.59 L461.54,172.55 L459.45,168.03 Z" fill="#1a1a1a"/>
<g clip-path="url(#cD)" fill="none" stroke-linejoin="miter">
<path d="M559.2,184.0 L572.0,28.4 L586.5,24.8 L599.7,31.6 L613.5,49.7 L627.8,73.0 L641.4,121.0 L655.0,168.0 L661.8,184.0" stroke="#ff0000" stroke-width="1.1"/>
<path d="M559.2,184.0 L572.0,43.3 L586.5,55.4 L613.5,13.1 L627.5,26.0 L641.0,28.4 L655.4,44.3 L668.2,71.9 L682.5,96.0" stroke="#0000ff" stroke-width="1.1"/>
</g>
<line x1="619.7" y1="7.6" x2="619.7" y2="181.2" stroke="#ff0000" stroke-width="1.50" stroke-dasharray="14,14.5" stroke-dashoffset="4.6" opacity="0.75"/>
<line x1="657.2" y1="7.6" x2="657.2" y2="181.8" stroke="#0000ff" stroke-width="1.50" stroke-dasharray="14,14.5" stroke-dashoffset="4.6"/>
<rect x="559.2" y="7.6" width="123.3" height="176.2" fill="none" stroke="#484848" stroke-width="1.10"/>
<line x1="559.2" y1="184.0" x2="561.7" y2="184.0" stroke="#484848" stroke-width="1.00"/>
<line x1="682.5" y1="184.0" x2="680.0" y2="184.0" stroke="#484848" stroke-width="1.00"/>
<line x1="559.2" y1="154.6" x2="561.7" y2="154.6" stroke="#484848" stroke-width="1.00"/>
<line x1="682.5" y1="154.6" x2="680.0" y2="154.6" stroke="#484848" stroke-width="1.00"/>
<line x1="559.2" y1="125.2" x2="561.7" y2="125.2" stroke="#484848" stroke-width="1.00"/>
<line x1="682.5" y1="125.2" x2="680.0" y2="125.2" stroke="#484848" stroke-width="1.00"/>
<line x1="559.2" y1="95.8" x2="561.7" y2="95.8" stroke="#484848" stroke-width="1.00"/>
<line x1="682.5" y1="95.8" x2="680.0" y2="95.8" stroke="#484848" stroke-width="1.00"/>
<line x1="559.2" y1="66.4" x2="561.7" y2="66.4" stroke="#484848" stroke-width="1.00"/>
<line x1="682.5" y1="66.4" x2="680.0" y2="66.4" stroke="#484848" stroke-width="1.00"/>
<line x1="559.2" y1="37.0" x2="561.7" y2="37.0" stroke="#484848" stroke-width="1.00"/>
<line x1="682.5" y1="37.0" x2="680.0" y2="37.0" stroke="#484848" stroke-width="1.00"/>
<line x1="559.2" y1="7.6" x2="561.7" y2="7.6" stroke="#484848" stroke-width="1.00"/>
<line x1="682.5" y1="7.6" x2="680.0" y2="7.6" stroke="#484848" stroke-width="1.00"/>
<line x1="559.2" y1="183.8" x2="559.2" y2="181.3" stroke="#484848" stroke-width="1.00"/>
<line x1="559.2" y1="7.6" x2="559.2" y2="10.1" stroke="#484848" stroke-width="1.00"/>
<line x1="600.3" y1="183.8" x2="600.3" y2="181.3" stroke="#484848" stroke-width="1.00"/>
<line x1="600.3" y1="7.6" x2="600.3" y2="10.1" stroke="#484848" stroke-width="1.00"/>
<line x1="641.4" y1="183.8" x2="641.4" y2="181.3" stroke="#484848" stroke-width="1.00"/>
<line x1="641.4" y1="7.6" x2="641.4" y2="10.1" stroke="#484848" stroke-width="1.00"/>
<line x1="682.5" y1="183.8" x2="682.5" y2="181.3" stroke="#484848" stroke-width="1.00"/>
<line x1="682.5" y1="7.6" x2="682.5" y2="10.1" stroke="#484848" stroke-width="1.00"/>
<text x="554.2" y="188.6" font-size="12.50" text-anchor="end" fill="#333" font-weight="normal" font-family='"Liberation Sans", sans-serif'>0</text>
<text x="554.2" y="159.2" font-size="12.50" text-anchor="end" fill="#333" font-weight="normal" font-family='"Liberation Sans", sans-serif'>0.2</text>
<text x="554.2" y="129.8" font-size="12.50" text-anchor="end" fill="#333" font-weight="normal" font-family='"Liberation Sans", sans-serif'>0.4</text>
<text x="554.2" y="100.4" font-size="12.50" text-anchor="end" fill="#333" font-weight="normal" font-family='"Liberation Sans", sans-serif'>0.6</text>
<text x="554.2" y="71.0" font-size="12.50" text-anchor="end" fill="#333" font-weight="normal" font-family='"Liberation Sans", sans-serif'>0.8</text>
<text x="554.2" y="41.6" font-size="12.50" text-anchor="end" fill="#333" font-weight="normal" font-family='"Liberation Sans", sans-serif'>1</text>
<text x="554.2" y="12.2" font-size="12.50" text-anchor="end" fill="#333" font-weight="normal" font-family='"Liberation Sans", sans-serif'>1.2</text>
<text x="559.2" y="198.6" font-size="12.50" text-anchor="middle" fill="#333" font-weight="normal" font-family='"Liberation Sans", sans-serif'>0</text>
<text x="600.3" y="198.6" font-size="12.50" text-anchor="middle" fill="#333" font-weight="normal" font-family='"Liberation Sans", sans-serif'>1</text>
<text x="641.4" y="198.6" font-size="12.50" text-anchor="middle" fill="#333" font-weight="normal" font-family='"Liberation Sans", sans-serif'>2</text>
<text x="682.5" y="198.6" font-size="12.50" text-anchor="middle" fill="#333" font-weight="normal" font-family='"Liberation Sans", sans-serif'>3</text>
<text x="571.6" y="213.6" font-size="12.50" text-anchor="start" fill="#333" font-weight="normal" font-family='"Liberation Sans", sans-serif' textLength="97.4" lengthAdjust="spacingAndGlyphs">Frequency [THz]</text>
<line x1="528.4" y1="102.0" x2="518.2" y2="96.8" stroke="#333" stroke-width="1.00"/>
<g transform="rotate(-90)"><text x="-111.4" y="527.2" font-size="13.5" fill="#333" font-family='"Liberation Serif", serif' textLength="8" lengthAdjust="spacingAndGlyphs">Φ</text><text x="-95.4" y="527.2" font-size="13.5" fill="#333" font-family='"Liberation Serif", serif' textLength="8" lengthAdjust="spacingAndGlyphs">Φ</text><text x="-86.4" y="533.2" font-size="10.5" fill="#333" font-family='"Liberation Sans", sans-serif'>0</text></g>
<text x="514.6" y="14.3" font-size="16.00" text-anchor="start" fill="#000" font-weight="bold" font-family='"Liberation Sans", sans-serif'>D</text>
<text x="575.0" y="165.3" font-size="11.50" text-anchor="start" fill="#1a1a1a" font-weight="normal" font-family='"Liberation Sans", sans-serif' textLength="18.3" lengthAdjust="spacingAndGlyphs">Δω</text>
<line x1="574.0" y1="170.2" x2="594.6" y2="170.2" stroke="#1a1a1a" stroke-width="1.20"/>
<text x="585.0" y="182.4" font-size="11.00" text-anchor="middle" fill="#1a1a1a" font-weight="normal" font-family='"Liberation Sans", sans-serif'>2π</text>
<line x1="600.4" y1="171.6" x2="611.1" y2="167.4" stroke="#1a1a1a" stroke-width="1.40"/>
<path d="M618.70,164.50 L610.22,172.51 L611.15,167.43 L607.04,164.30 Z" fill="#1a1a1a"/>
<line x1="602.0" y1="175.6" x2="647.9" y2="177.3" stroke="#1a1a1a" stroke-width="1.40"/>
<path d="M656.00,177.60 L645.04,181.60 L647.91,177.30 L645.37,172.80 Z" fill="#1a1a1a"/>
<g clip-path="url(#cE)">
<line x1="378.4" y1="404.2" x2="592.7" y2="226.9" stroke="#77ac30" stroke-width="1.6"/>
</g>
<circle cx="397.4" cy="388.4" r="3.7" fill="none" stroke="#77ac30" stroke-width="1.1"/>
<circle cx="408.0" cy="378.9" r="3.7" fill="none" stroke="#77ac30" stroke-width="1.1"/>
<circle cx="420.7" cy="368.8" r="3.7" fill="none" stroke="#77ac30" stroke-width="1.1"/>
<circle cx="438.3" cy="352.9" r="3.7" fill="none" stroke="#77ac30" stroke-width="1.1"/>
<circle cx="473.0" cy="324.4" r="3.7" fill="none" stroke="#77ac30" stroke-width="1.1"/>
<circle cx="511.6" cy="295.0" r="3.7" fill="none" stroke="#77ac30" stroke-width="1.1"/>
<circle cx="526.6" cy="279.6" r="3.7" fill="none" stroke="#77ac30" stroke-width="1.1"/>
<circle cx="549.8" cy="266.0" r="3.7" fill="none" stroke="#77ac30" stroke-width="1.1"/>
<circle cx="588.6" cy="254.4" r="3.7" fill="none" stroke="#77ac30" stroke-width="1.1"/>
<circle cx="676.0" cy="248.6" r="3.7" fill="none" stroke="#77ac30" stroke-width="1.1"/>
<path d="M486.5,310.8 L487.7,313.7 L490.8,313.9 L488.4,315.9 L489.1,318.9 L486.5,317.3 L483.9,318.9 L484.6,315.9 L482.2,313.9 L485.3,313.7 Z" fill="none" stroke="#ff0000" stroke-width="1.2" stroke-linejoin="miter"/>
<path d="M527.2,259.3 L528.4,262.2 L531.5,262.4 L529.1,264.4 L529.8,267.4 L527.2,265.8 L524.6,267.4 L525.3,264.4 L522.9,262.4 L526.0,262.2 Z" fill="none" stroke="#0000ff" stroke-width="1.2" stroke-linejoin="miter"/>
<rect x="378.4" y="231.6" width="303.2" height="172.8" fill="none" stroke="#262626" stroke-width="1.30"/>
<line x1="378.4" y1="404.2" x2="381.4" y2="404.2" stroke="#262626" stroke-width="1.10"/>
<line x1="681.6" y1="404.2" x2="678.6" y2="404.2" stroke="#262626" stroke-width="1.10"/>
<line x1="378.4" y1="372.2" x2="381.4" y2="372.2" stroke="#262626" stroke-width="1.10"/>
<line x1="681.6" y1="372.2" x2="678.6" y2="372.2" stroke="#262626" stroke-width="1.10"/>
<line x1="378.4" y1="340.2" x2="381.4" y2="340.2" stroke="#262626" stroke-width="1.10"/>
<line x1="681.6" y1="340.2" x2="678.6" y2="340.2" stroke="#262626" stroke-width="1.10"/>
<line x1="378.4" y1="308.2" x2="381.4" y2="308.2" stroke="#262626" stroke-width="1.10"/>
<line x1="681.6" y1="308.2" x2="678.6" y2="308.2" stroke="#262626" stroke-width="1.10"/>
<line x1="378.4" y1="276.2" x2="381.4" y2="276.2" stroke="#262626" stroke-width="1.10"/>
<line x1="681.6" y1="276.2" x2="678.6" y2="276.2" stroke="#262626" stroke-width="1.10"/>
<line x1="378.4" y1="244.2" x2="381.4" y2="244.2" stroke="#262626" stroke-width="1.10"/>
<line x1="681.6" y1="244.2" x2="678.6" y2="244.2" stroke="#262626" stroke-width="1.10"/>
<line x1="378.4" y1="404.4" x2="378.4" y2="401.4" stroke="#262626" stroke-width="1.10"/>
<line x1="378.4" y1="231.6" x2="378.4" y2="234.6" stroke="#262626" stroke-width="1.10"/>
<line x1="437.9" y1="404.4" x2="437.9" y2="401.4" stroke="#262626" stroke-width="1.10"/>
<line x1="437.9" y1="231.6" x2="437.9" y2="234.6" stroke="#262626" stroke-width="1.10"/>
<line x1="497.4" y1="404.4" x2="497.4" y2="401.4" stroke="#262626" stroke-width="1.10"/>
<line x1="497.4" y1="231.6" x2="497.4" y2="234.6" stroke="#262626" stroke-width="1.10"/>
<line x1="557.0" y1="404.4" x2="557.0" y2="401.4" stroke="#262626" stroke-width="1.10"/>
<line x1="557.0" y1="231.6" x2="557.0" y2="234.6" stroke="#262626" stroke-width="1.10"/>
<line x1="616.5" y1="404.4" x2="616.5" y2="401.4" stroke="#262626" stroke-width="1.10"/>
<line x1="616.5" y1="231.6" x2="616.5" y2="234.6" stroke="#262626" stroke-width="1.10"/>
<line x1="676.0" y1="404.4" x2="676.0" y2="401.4" stroke="#262626" stroke-width="1.10"/>
<line x1="676.0" y1="231.6" x2="676.0" y2="234.6" stroke="#262626" stroke-width="1.10"/>
<text x="373.4" y="408.5" font-size="12.00" text-anchor="end" fill="#1a1a1a" font-weight="normal" font-family='"Liberation Sans", sans-serif'>0</text>
<text x="373.4" y="376.5" font-size="12.00" text-anchor="end" fill="#1a1a1a" font-weight="normal" font-family='"Liberation Sans", sans-serif'>0.5</text>
<text x="373.4" y="344.5" font-size="12.00" text-anchor="end" fill="#1a1a1a" font-weight="normal" font-family='"Liberation Sans", sans-serif'>1</text>
<text x="373.4" y="312.5" font-size="12.00" text-anchor="end" fill="#1a1a1a" font-weight="normal" font-family='"Liberation Sans", sans-serif'>1.5</text>
<text x="373.4" y="280.5" font-size="12.00" text-anchor="end" fill="#1a1a1a" font-weight="normal" font-family='"Liberation Sans", sans-serif'>2</text>
<text x="373.4" y="248.5" font-size="12.00" text-anchor="end" fill="#1a1a1a" font-weight="normal" font-family='"Liberation Sans", sans-serif'>2.5</text>
<text x="378.4" y="420.4" font-size="12.00" text-anchor="middle" fill="#1a1a1a" font-weight="normal" font-family='"Liberation Sans", sans-serif'>0</text>
<text x="437.9" y="420.4" font-size="12.00" text-anchor="middle" fill="#1a1a1a" font-weight="normal" font-family='"Liberation Sans", sans-serif'>2</text>
<text x="497.4" y="420.4" font-size="12.00" text-anchor="middle" fill="#1a1a1a" font-weight="normal" font-family='"Liberation Sans", sans-serif'>4</text>
<text x="557.0" y="420.4" font-size="12.00" text-anchor="middle" fill="#1a1a1a" font-weight="normal" font-family='"Liberation Sans", sans-serif'>6</text>
<text x="616.5" y="420.4" font-size="12.00" text-anchor="middle" fill="#1a1a1a" font-weight="normal" font-family='"Liberation Sans", sans-serif'>8</text>
<text x="676.0" y="420.4" font-size="12.00" text-anchor="middle" fill="#1a1a1a" font-weight="normal" font-family='"Liberation Sans", sans-serif'>10</text>
<g transform="rotate(-90)"><text x="-356.6" y="348.4" font-size="14" fill="#1a1a1a" font-family='"Liberation Sans", sans-serif' textLength="19.8" lengthAdjust="spacingAndGlyphs">Δω</text><text x="-328.4" y="348.4" font-size="14" fill="#1a1a1a" font-family='"Liberation Sans", sans-serif' textLength="55.3" lengthAdjust="spacingAndGlyphs">2π [THz]</text></g>
<line x1="352.0" y1="335.0" x2="337.9" y2="330.4" stroke="#1a1a1a" stroke-width="1.15"/>
<text x="336.3" y="237.8" font-size="16.00" text-anchor="start" fill="#000" font-weight="bold" font-family='"Liberation Sans", sans-serif'>E</text>
<text x="502.3" y="438.5" font-size="15.00" text-anchor="start" fill="#1a1a1a" font-weight="normal" font-family='"Liberation Sans", sans-serif' textLength="6.6" lengthAdjust="spacingAndGlyphs">1</text>
<line x1="510.6" y1="442.4" x2="517.6" y2="426.0" stroke="#1a1a1a" stroke-width="1.30"/>
<path d="M519.5,433.5 L521.6,432.4 L524.6,441.5 L528.2,425.4 L556.4,425.4" fill="none" stroke="#1a1a1a" stroke-width="1.1"/>
<text x="527.6" y="438.5" font-size="15.00" text-anchor="start" fill="#1a1a1a" font-weight="normal" font-family='"Liberation Sans", sans-serif' textLength="8.6" lengthAdjust="spacingAndGlyphs">T</text>
<text x="537.3" y="443.8" font-size="10.00" text-anchor="start" fill="#1a1a1a" font-weight="normal" font-family='"Liberation Sans", sans-serif' textLength="5.4" lengthAdjust="spacingAndGlyphs">C</text>
<text x="543.5" y="438.5" font-size="15.00" text-anchor="start" fill="#1a1a1a" font-weight="normal" font-family='"Liberation Sans", sans-serif' textLength="8.6" lengthAdjust="spacingAndGlyphs">T</text>
<text x="552.8" y="443.8" font-size="10.00" text-anchor="start" fill="#1a1a1a" font-weight="normal" font-family='"Liberation Sans", sans-serif'>0</text>
<text x="382.2" y="358.6" font-size="13.00" text-anchor="start" fill="#1a1a1a" font-weight="normal" font-family='"Liberation Sans", sans-serif' textLength="43.2" lengthAdjust="spacingAndGlyphs">β &gt;&gt; 1</text>
<line x1="415.9" y1="379.6" x2="427.6" y2="381.9" stroke="#1a1a1a" stroke-width="1.30"/>
<path d="M433.30,383.00 L425.94,385.23 L427.61,381.89 L427.32,378.16 Z" fill="#1a1a1a"/>
<text x="437.8" y="386.1" font-size="13.00" text-anchor="start" fill="#1a1a1a" font-weight="normal" font-family='"Liberation Sans", sans-serif'>T</text>
<text x="446.0" y="391.6" font-size="9.00" text-anchor="start" fill="#1a1a1a" font-weight="normal" font-family='"Liberation Sans", sans-serif' textLength="5.2" lengthAdjust="spacingAndGlyphs">C</text>
<text x="454.9" y="386.1" font-size="13.00" text-anchor="start" fill="#1a1a1a" font-weight="normal" font-family='"Liberation Sans", sans-serif' textLength="17.1" lengthAdjust="spacingAndGlyphs">&gt;&gt;</text>
<text x="476.7" y="386.1" font-size="13.00" text-anchor="start" fill="#1a1a1a" font-weight="normal" font-family='"Liberation Sans", sans-serif'>T</text>
<text x="487.0" y="391.2" font-size="8.50" text-anchor="start" fill="#1a1a1a" font-weight="normal" font-family='"Liberation Sans", sans-serif' textLength="14.7" lengthAdjust="spacingAndGlyphs">THz</text>
<line x1="602.0" y1="271.6" x2="598.5" y2="265.9" stroke="#1a1a1a" stroke-width="1.30"/>
<path d="M595.40,261.00 L602.05,264.87 L598.47,265.92 L595.94,268.68 Z" fill="#1a1a1a"/>
<text x="591.0" y="287.6" font-size="13.00" text-anchor="start" fill="#1a1a1a" font-weight="normal" font-family='"Liberation Sans", sans-serif'>T</text>
<text x="599.3" y="293.2" font-size="9.00" text-anchor="start" fill="#1a1a1a" font-weight="normal" font-family='"Liberation Sans", sans-serif' textLength="5.2" lengthAdjust="spacingAndGlyphs">C</text>
<text x="607.0" y="287.6" font-size="13.00" text-anchor="start" fill="#1a1a1a" font-weight="normal" font-family='"Liberation Sans", sans-serif' textLength="17.5" lengthAdjust="spacingAndGlyphs">~T</text>
<text x="627.2" y="292.6" font-size="8.50" text-anchor="start" fill="#1a1a1a" font-weight="normal" font-family='"Liberation Sans", sans-serif' textLength="14.7" lengthAdjust="spacingAndGlyphs">THz</text>
<text x="610.4" y="313.6" font-size="13.00" text-anchor="start" fill="#1a1a1a" font-weight="normal" font-family='"Liberation Sans", sans-serif' textLength="32.6" lengthAdjust="spacingAndGlyphs">β &lt; 1</text>
<circle cx="531.1" cy="337.4" r="3.7" fill="none" stroke="#77ac30" stroke-width="1.1"/>
<path d="M531.1,356.6 L532.5,359.9 L536.0,360.2 L533.3,362.5 L534.2,366.0 L531.1,364.1 L528.0,366.0 L528.9,362.5 L526.2,360.2 L529.7,359.9 Z" fill="none" stroke="#ff0000" stroke-width="1.2" stroke-linejoin="miter"/>
<path d="M531.1,382.4 L532.5,385.7 L536.0,386.0 L533.3,388.3 L534.2,391.8 L531.1,389.9 L528.0,391.8 L528.9,388.3 L526.2,386.0 L529.7,385.7 Z" fill="none" stroke="#0000ff" stroke-width="1.2" stroke-linejoin="miter"/>
<text x="548.5" y="341.8" font-size="12.50" text-anchor="start" fill="#1a1a1a" font-weight="normal" font-family='"Liberation Sans", sans-serif' textLength="67.0" lengthAdjust="spacingAndGlyphs">Simulations</text>
<text x="548.5" y="367.1" font-size="12.50" text-anchor="start" fill="#1a1a1a" font-weight="normal" font-family='"Liberation Sans", sans-serif' textLength="80.0" lengthAdjust="spacingAndGlyphs">Chirped (Exp.)</text>
<text x="548.5" y="393.2" font-size="12.50" text-anchor="start" fill="#1a1a1a" font-weight="normal" font-family='"Liberation Sans", sans-serif' textLength="130.3" lengthAdjust="spacingAndGlyphs">Supercontinuum (Exp.)</text>
</svg>
</body></html>
